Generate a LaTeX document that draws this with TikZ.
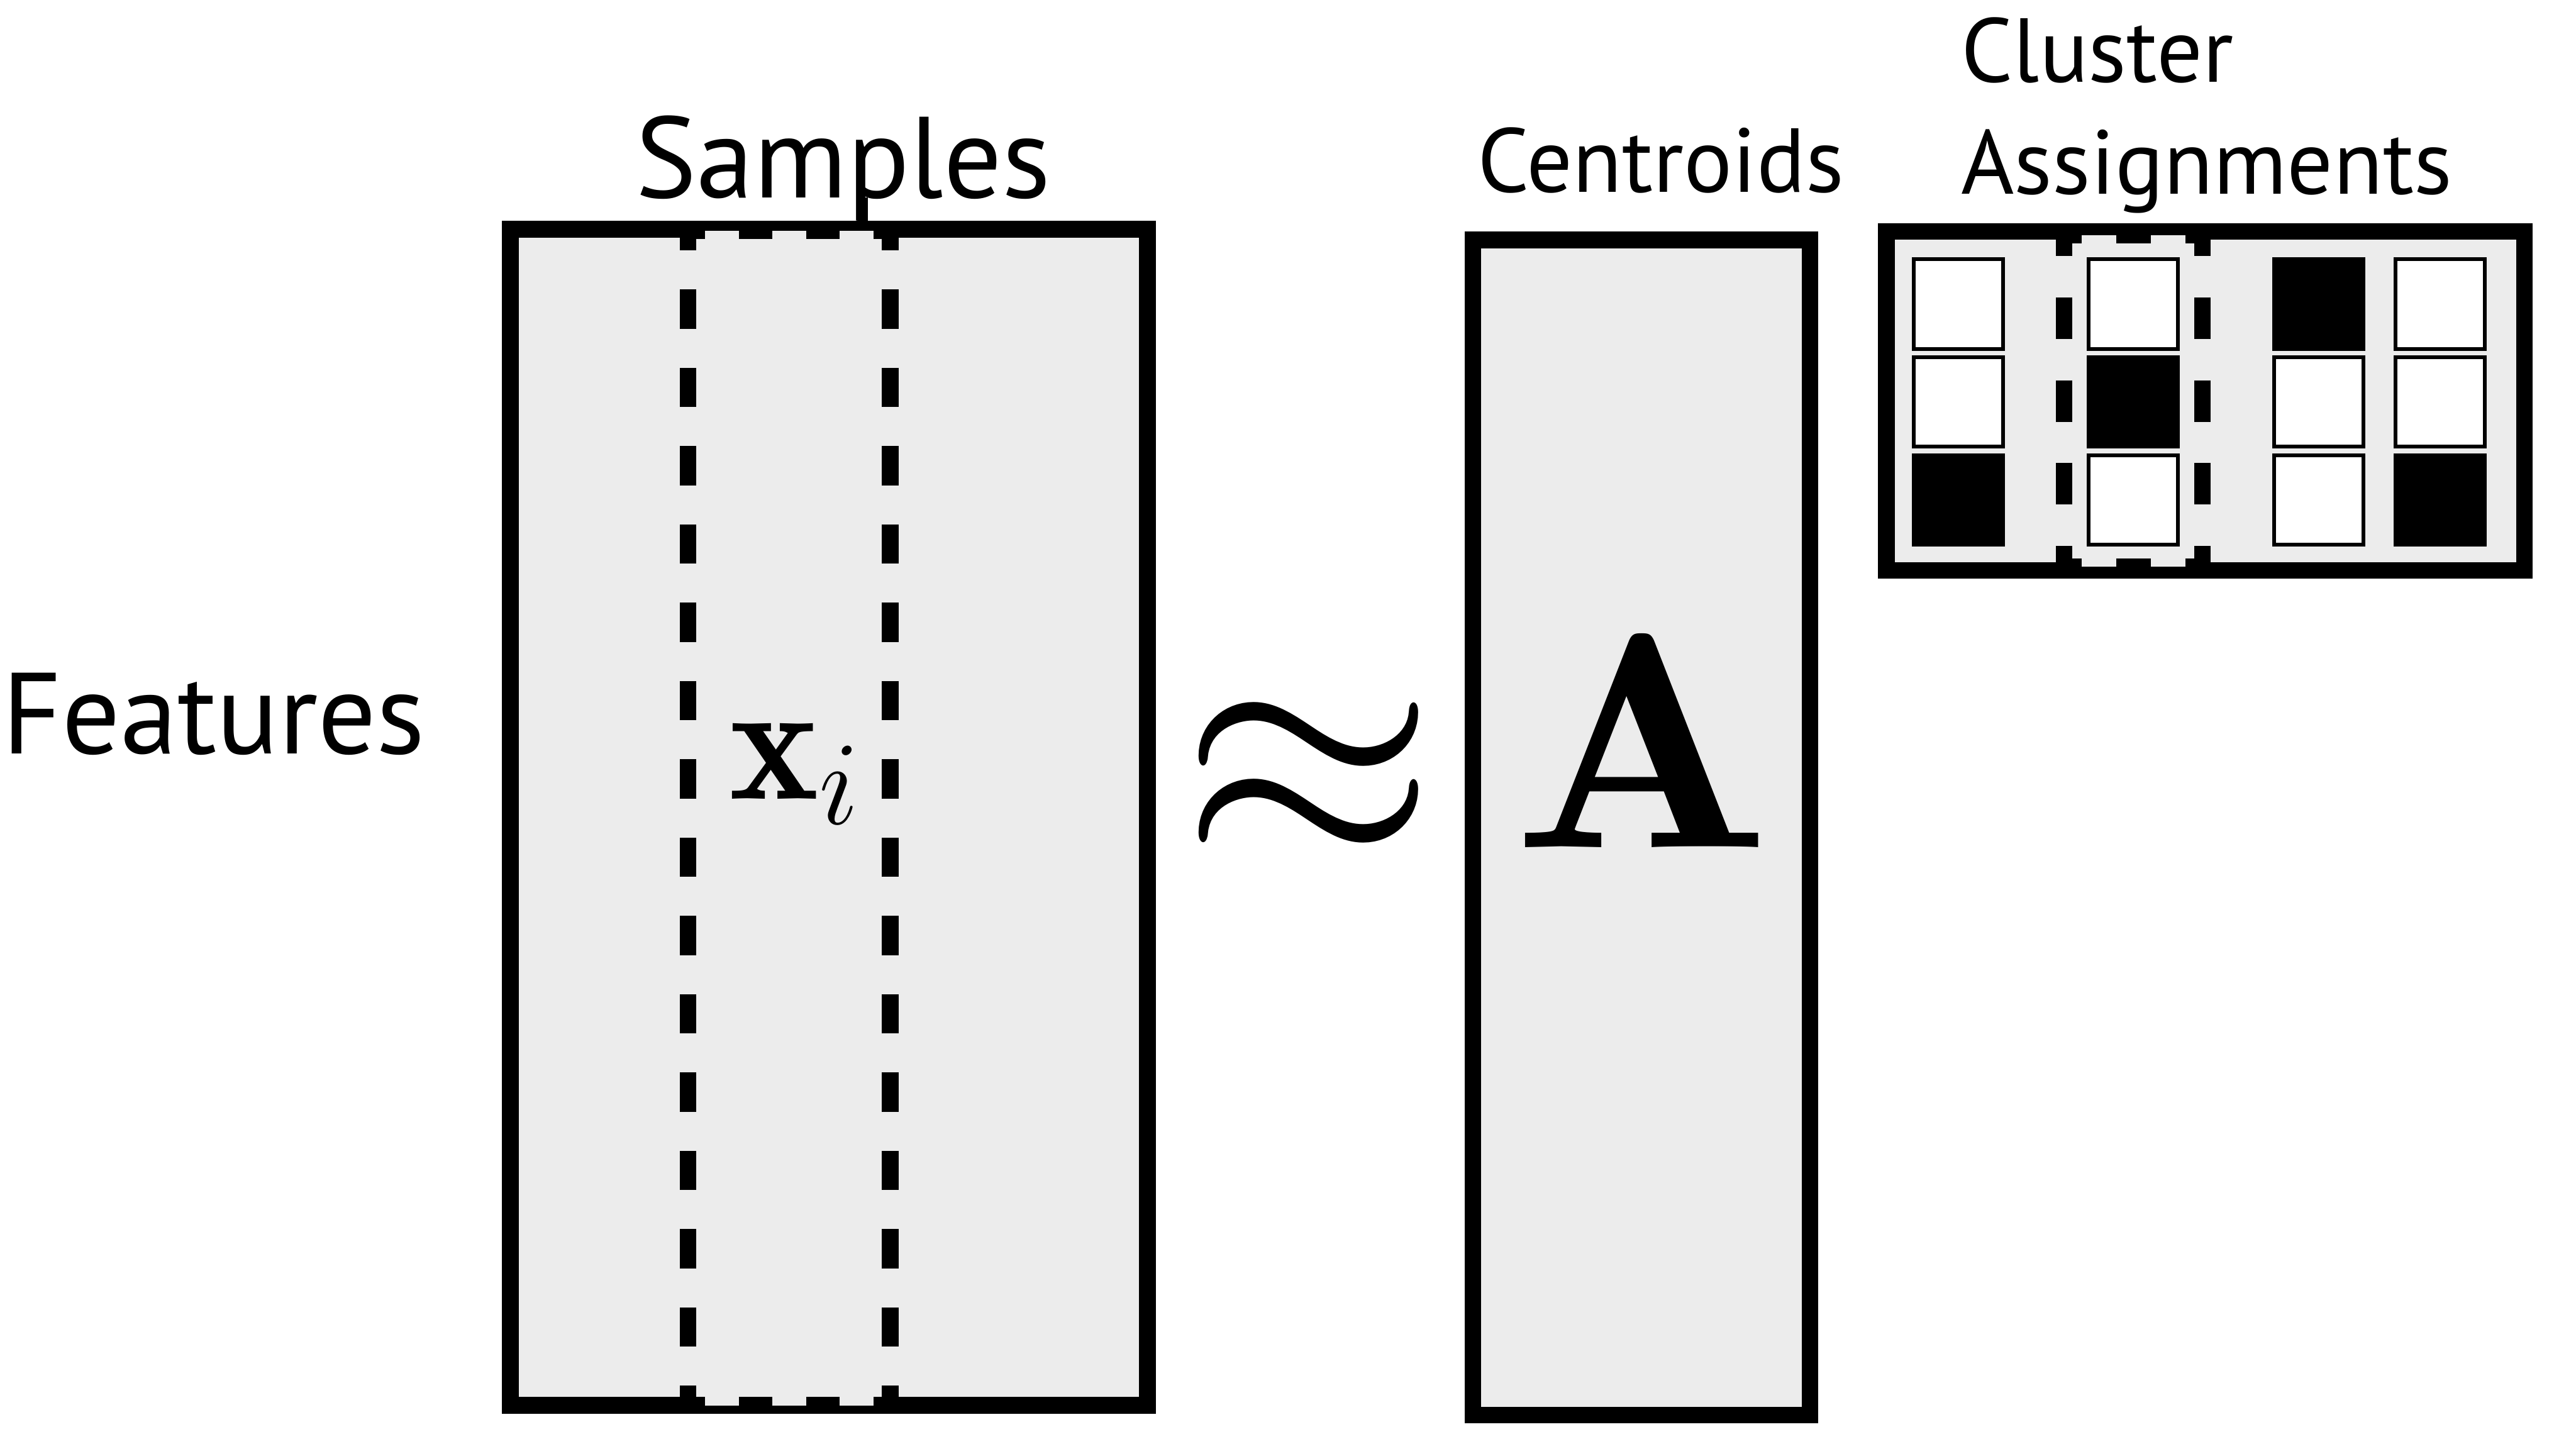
\RequirePackage{fix-cm}
\documentclass[tikz,border=0pt]{standalone}
\usepackage{graphicx}
\usepackage{fontspec}
\newfontfamily\labelfont{PT Sans}
\usetikzlibrary{positioning}
\definecolor{boxgray}{RGB}{236,236,236}
\tikzset{
  matbox/.style={draw, line width=0.31cm, fill=boxgray, inner sep=0pt, outer sep=0pt},
  colband/.style={fill=boxgray, inner sep=0pt, outer sep=0pt},
  bandside/.style={line width=0.31cm},
  cellw/.style={draw, line width=0.07cm, fill=white, minimum size=1.66cm, inner sep=0pt},
  cellb/.style={cellw, fill=black},
  biglabel/.style={font=\labelfont\fontsize{61}{61}\selectfont, inner sep=0pt},
  smalllabel/.style={font=\labelfont\fontsize{48}{48}\selectfont, inner sep=0pt},
  mathlabel/.style={inner sep=0pt},
}

\begin{document}
\begin{tikzpicture}
  \useasboundingbox (0,0) rectangle (47.86,26.82);
  % data matrix
  \node[matbox, minimum width=11.84cm, minimum height=21.85cm] (X) at (15.40,11.635) {};
  \node[colband, minimum width=3.755cm, minimum height=21.82cm] (xcol) at (14.6625,11.62) {};
  \draw[bandside, dash pattern=on 0.7273cm off 0.7273cm, dash phase=0.3636cm] (xcol.north west) -- (xcol.south west);
  \draw[bandside, dash pattern=on 0.7273cm off 0.7273cm, dash phase=0.3636cm] (xcol.north east) -- (xcol.south east);
  \draw[bandside, dash pattern=on 0.6258cm off 0.6258cm, dash phase=0.3129cm] (xcol.north west) -- (xcol.north east);
  \draw[bandside, dash pattern=on 0.6258cm off 0.6258cm, dash phase=0.3129cm] (xcol.south west) -- (xcol.south east);
  \node[mathlabel, font=\fontsize{90}{90}\selectfont, anchor=base west] (xi) at (13.54,11.98) {$\mathbf{x}_i$};
  \node[biglabel, anchor=base] (samples) at (15.665,23.15) {Samples};
  \coordinate (stem) at (16.025,23.15);
  \draw[line width=0.19cm] (stem) -- (stem |- X.north);
  \node[biglabel, anchor=base west] (features) at (0.03,12.81) {Features};

  % approximately equal
  \node[mathlabel, font=\fontsize{174}{174}\selectfont] (approx) at (24.31,12.3) {$\approx$};

  % centroids
  \node[matbox, minimum width=6.265cm, minimum height=21.83cm] (A) at (30.4975,11.445) {};
  \node[mathlabel, font=\fontsize{162}{162}\selectfont, anchor=base] (Asym) at (30.51,11.08) {\scalebox{1.11}[1]{$\mathbf{A}$}};
  \node[smalllabel, anchor=base] (centroids) at (30.855,23.25) {Centroids};

  % cluster assignments
  \node[matbox, minimum width=11.85cm, minimum height=6.30cm] (Z) at (40.975,19.37) {};
  \node[colband, minimum width=2.57cm, minimum height=6.16cm] (zcol) at (39.635,19.37) {};
  \draw[bandside, dash pattern=on 0.77cm off 0.77cm, dash phase=0.385cm] (zcol.north west) -- (zcol.south west);
  \draw[bandside, dash pattern=on 0.77cm off 0.77cm, dash phase=0.385cm] (zcol.north east) -- (zcol.south east);
  \draw[bandside, dash pattern=on 0.6425cm off 0.6425cm, dash phase=0.3213cm] (zcol.north west) -- (zcol.north east);
  \draw[bandside, dash pattern=on 0.6425cm off 0.6425cm, dash phase=0.3213cm] (zcol.south west) -- (zcol.south east);
  \foreach \cx/\cy/\kind [count=\k] in {
      36.385/21.17/cellw, 36.385/19.355/cellw, 36.385/17.53/cellb,
      39.635/21.17/cellw, 39.635/19.355/cellb, 39.635/17.53/cellw,
      43.08/21.17/cellb,  43.08/19.355/cellw,  43.08/17.53/cellw,
      45.335/21.17/cellw, 45.335/19.355/cellw, 45.335/17.53/cellb}
    \node[\kind] (cell\k) at (\cx,\cy) {};
  \node[smalllabel, anchor=base west] (cluster) at (36.43,25.30) {Cluster};
  \node[smalllabel, anchor=base west] (assign) at (36.43,23.21) {Assignments};
\end{tikzpicture}
\end{document}
